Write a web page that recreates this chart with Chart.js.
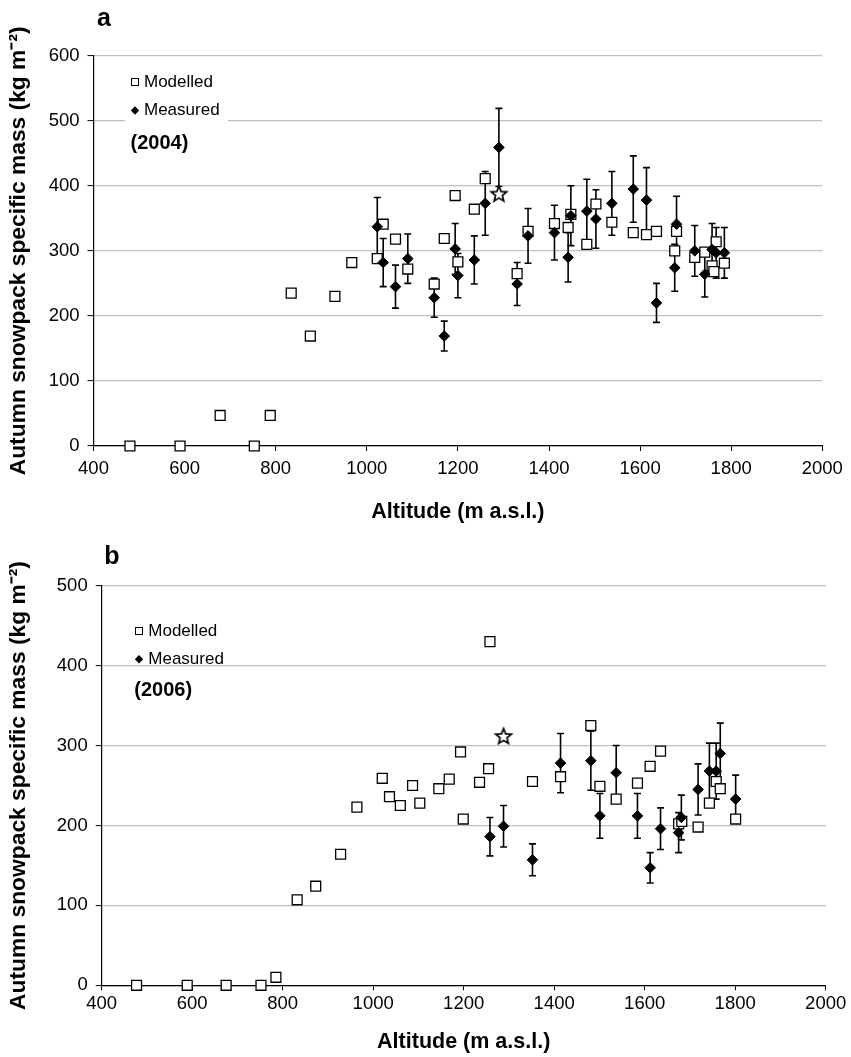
<!DOCTYPE html>
<html><head><meta charset="utf-8">
<script src="https://cdn.jsdelivr.net/npm/chart.js@4.4.0/dist/chart.umd.min.js"></script>
<style>
html,body{margin:0;padding:0;background:#fff;}
#wrapA{position:absolute;left:0;top:0;width:851px;height:530px;}
#wrapB{position:absolute;left:0;top:540px;width:851px;height:517px;}
</style></head><body>
<div id="wrapA"><canvas id="chartA" width="851" height="530"></canvas></div>
<div id="wrapB"><canvas id="chartB" width="851" height="517"></canvas></div>
<script>
// ---------- data ----------
const xTickValues = [400, 600, 800, 1000, 1200, 1400, 1600, 1800, 2000];
const yTickValuesA = [0, 100, 200, 300, 400, 500, 600];
const yTickValuesB = [0, 100, 200, 300, 400, 500];

// Panel a (2004)
const modelledAltA = [480, 590, 678, 753, 788, 834, 876, 930, 967, 1023, 1036, 1063, 1090, 1148, 1170, 1194, 1200, 1236, 1260, 1330, 1354, 1412, 1442, 1448, 1483, 1503, 1538, 1585, 1614, 1636, 1676, 1680, 1720, 1742, 1758, 1762, 1767, 1785];
const modelledValA = [0, 0, 47, 0, 47, 235, 169, 230, 282, 288, 341, 318, 272, 249, 319, 385, 283, 364, 411, 265, 330, 342, 336, 356, 310, 372, 344, 328, 325, 330, 300, 330, 290, 298, 277, 268, 314, 281];
const measuredAltA = [1023, 1036, 1063, 1090, 1148, 1170, 1194, 1200, 1236, 1260, 1290, 1330, 1354, 1412, 1442, 1448, 1483, 1503, 1538, 1585, 1614, 1636, 1676, 1680, 1720, 1742, 1758, 1767, 1785];
const measuredValA = [337, 282, 245, 288, 228, 169, 303, 262, 286, 373, 459, 249, 323, 328, 290, 354, 361, 349, 373, 395, 378, 220, 274, 341, 300, 264, 302, 297, 297];
const measuredErrA = [45, 37, 33, 38, 30, 23, 39, 34, 37, 49, 60, 33, 42, 42, 38, 46, 49, 45, 49, 51, 50, 30, 36, 43, 39, 35, 40, 39, 39];
const starAltA = [1290];
const starValA = [388];

// Panel b (2006)
const modelledAltB = [477, 589, 675, 752, 785, 832, 873, 928, 964, 1020, 1036, 1060, 1087, 1103, 1145, 1168, 1193, 1199, 1235, 1255, 1258, 1352, 1414, 1481, 1501, 1537, 1584, 1612, 1635, 1675, 1682, 1718, 1743, 1758, 1767, 1801];
const modelledValB = [0, 0, 0, 0, 10, 107, 124, 164, 223, 259, 236, 225, 250, 228, 246, 258, 292, 208, 254, 271, 430, 255, 261, 325, 249, 233, 253, 274, 293, 202, 205, 198, 228, 255, 246, 208];
const measuredAltB = [1258, 1288, 1352, 1414, 1481, 1501, 1537, 1584, 1612, 1635, 1675, 1681, 1718, 1743, 1758, 1767, 1801];
const measuredValB = [186, 199, 157, 278, 281, 212, 266, 212, 147, 196, 191, 210, 245, 268, 268, 290, 233];
const measuredErrB = [24, 26, 20, 37, 37, 28, 34, 28, 19, 26, 25, 28, 32, 35, 35, 38, 30];
const starAltB = [1288];
const starValB = [312];

const yTitle = 'Autumn snowpack specific mass (kg m\u207B\u00B2)';
const xTitle = 'Altitude (m a.s.l.)';

// ---------- helpers ----------
const FONT = "'Liberation Sans', Arial, Helvetica, sans-serif";
Chart.defaults.font.family = FONT;
Chart.defaults.color = '#000';

function pts(xs, ys) { return xs.map((x, i) => ({ x: x, y: ys[i] })); }

function makeStar() {
  const c = document.createElement('canvas');
  c.width = 22; c.height = 22;
  const g = c.getContext('2d');
  g.beginPath();
  for (let i = 0; i < 10; i++) {
    const r = i % 2 ? 3.6 : 8.2;
    const a = -Math.PI / 2 + i * Math.PI / 5;
    const px = 11 + r * Math.cos(a), py = 11.8 + r * Math.sin(a);
    if (i) g.lineTo(px, py); else g.moveTo(px, py);
  }
  g.closePath();
  g.fillStyle = '#fff'; g.fill();
  g.lineWidth = 1.7; g.strokeStyle = '#000'; g.stroke();
  return c;
}
const starImg = makeStar();

const errorBars = {
  id: 'errorBars',
  beforeDatasetsDraw(chart) {
    const ds = chart.data.datasets.find(d => d.errors);
    if (!ds) return;
    const xs = chart.scales.x, ys = chart.scales.y, ctx = chart.ctx;
    ctx.save();
    ctx.strokeStyle = '#000'; ctx.lineWidth = 1.6;
    ds.data.forEach((p, i) => {
      const e = ds.errors[i];
      const x = xs.getPixelForValue(p.x);
      const y1 = ys.getPixelForValue(p.y + e), y2 = ys.getPixelForValue(p.y - e);
      ctx.beginPath();
      ctx.moveTo(x, y1); ctx.lineTo(x, y2);
      ctx.moveTo(x - 3.5, y1); ctx.lineTo(x + 3.5, y1);
      ctx.moveTo(x - 3.5, y2); ctx.lineTo(x + 3.5, y2);
      ctx.stroke();
    });
    ctx.restore();
  }
};

const panelDeco = {
  id: 'panelDeco',
  afterDraw(chart, args, o) {
    const ctx = chart.ctx;
    ctx.save();
    // white legend box
    ctx.fillStyle = '#fff';
    ctx.fillRect(o.box[0], o.box[1], o.box[2], o.box[3]);
    // square marker
    ctx.strokeStyle = '#000'; ctx.lineWidth = 1;
    ctx.fillStyle = '#fff';
    ctx.fillRect(o.mx - 3.5, o.y1 - 3.5, 7, 7);
    ctx.strokeRect(o.mx - 3.5, o.y1 - 3.5, 7, 7);
    // diamond marker
    ctx.fillStyle = '#000';
    ctx.beginPath();
    ctx.moveTo(o.mx, o.y2 - 4.2); ctx.lineTo(o.mx + 4.2, o.y2);
    ctx.lineTo(o.mx, o.y2 + 4.2); ctx.lineTo(o.mx - 4.2, o.y2);
    ctx.closePath(); ctx.fill();
    // legend texts
    ctx.fillStyle = '#000';
    ctx.textBaseline = 'middle'; ctx.textAlign = 'left';
    ctx.font = '17px ' + FONT;
    ctx.fillText('Modelled', o.tx, o.y1);
    ctx.fillText('Measured', o.tx, o.y2);
    ctx.font = 'bold 20px ' + FONT;
    ctx.fillText(o.year, o.yx, o.y3);
    // panel letter
    ctx.font = 'bold 25px ' + FONT;
    ctx.textAlign = 'center';
    ctx.fillText(o.letter, o.lx, o.ly);
    ctx.restore();
  }
};

function buildChart(id, cfg) {
  const ctx = document.getElementById(id);
  return new Chart(ctx, {
    type: 'scatter',
    data: {
      datasets: [
        { label: 'Measured', data: pts(cfg.measAlt, cfg.measVal), errors: cfg.measErr,
          pointStyle: 'rectRot', pointRadius: 5.3, backgroundColor: '#000', borderColor: '#000', borderWidth: 1, order: 0, clip: false },
        { label: 'Modelled', data: pts(cfg.modAlt, cfg.modVal),
          pointStyle: 'rect', pointRadius: 7, backgroundColor: '#fff', borderColor: '#000', borderWidth: 1.3, order: 1, clip: false },
        { label: 'Star', data: pts(cfg.starAlt, cfg.starVal),
          pointStyle: starImg, pointRadius: 8, order: 2, clip: false }
      ]
    },
    options: {
      responsive: false,
      animation: false,
      events: [],
      layout: { padding: cfg.padding },
      plugins: { legend: { display: false }, tooltip: { enabled: false }, panelDeco: cfg.deco },
      scales: {
        x: {
          type: 'linear', min: 400, max: 2000,
          afterBuildTicks: s => { s.ticks = xTickValues.map(v => ({ value: v })); },
          afterFit: s => { s.height = cfg.xAxisH; },
          ticks: { font: { size: 18.5 }, color: '#000', padding: cfg.xTickPad, maxRotation: 0, callback: v => String(v) },
          grid: { drawOnChartArea: false, drawTicks: true, tickLength: 5, tickColor: '#000', tickWidth: 1 },
          border: { display: true, color: '#000', width: 1.2 },
          title: { display: true, text: xTitle, font: { size: 21.5, weight: 'bold' }, color: '#000', padding: { top: 0, bottom: cfg.xTitlePad } }
        },
        y: {
          type: 'linear', min: 0, max: cfg.yMax,
          afterBuildTicks: s => { s.ticks = cfg.yTicks.map(v => ({ value: v })); },
          afterFit: s => { s.width = cfg.yAxisW; },
          ticks: { font: { size: 18.5 }, color: '#000', padding: 8, callback: v => String(v) },
          grid: { color: '#c0c0c0', lineWidth: 1.2, drawTicks: true, tickLength: 6, tickColor: '#000', tickWidth: 1 },
          border: { display: true, color: '#000', width: 1.2 },
          title: { display: true, text: yTitle, font: { size: 22.8, weight: 'bold' }, color: '#000', padding: { top: cfg.yTitlePad, bottom: 0 } }
        }
      }
    },
    plugins: [errorBars, panelDeco]
  });
}

buildChart('chartA', {
  modAlt: modelledAltA, modVal: modelledValA,
  measAlt: measuredAltA, measVal: measuredValA, measErr: measuredErrA,
  starAlt: starAltA, starVal: starValA,
  yMax: 600, yTicks: yTickValuesA,
  padding: { top: 55.7, left: 0, right: 28.7, bottom: 0 },
  yAxisW: 93.5, xAxisH: 84, xTickPad: 7, xTitlePad: 5, yTitlePad: 5,
  deco: { box: [125, 68, 103, 58], mx: 135, tx: 144, y1: 82, y2: 110.5, yx: 130.5, y3: 143, year: '(2004)', letter: 'a', lx: 104, ly: 19 }
});

buildChart('chartB', {
  modAlt: modelledAltB, modVal: modelledValB,
  measAlt: measuredAltB, measVal: measuredValB, measErr: measuredErrB,
  starAlt: starAltB, starVal: starValB,
  yMax: 500, yTicks: yTickValuesB,
  padding: { top: 45.7, left: 0, right: 25.3, bottom: 0 },
  yAxisW: 101.7, xAxisH: 71.7, xTickPad: 3, xTitlePad: 2, yTitlePad: 5,
  deco: { box: [130, 618, 103, 56], mx: 139, tx: 148.3, y1: 91, y2: 119.3, yx: 134.3, y3: 150, year: '(2006)', letter: 'b', lx: 112, ly: 17 }
});
</script>
</body></html>
